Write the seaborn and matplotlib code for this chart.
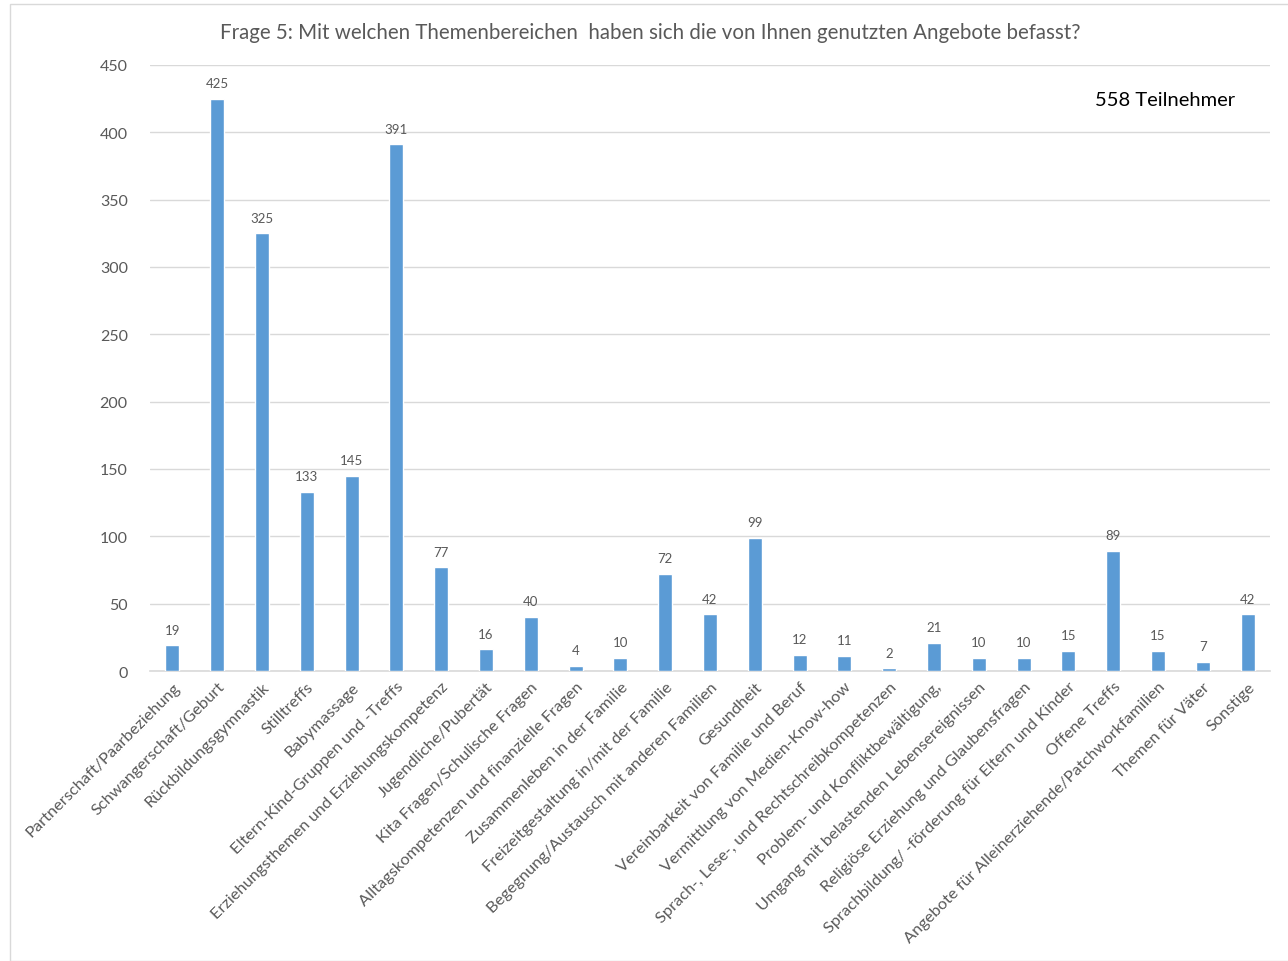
import matplotlib

matplotlib.use("Agg")
import matplotlib.pyplot as plt
import pandas as pd
import seaborn as sns

themen = [
    "Partnerschaft/Paarbeziehung",
    "Schwangerschaft/Geburt",
    "Rückbildungsgymnastik",
    "Stilltreffs",
    "Babymassage",
    "Eltern-Kind-Gruppen und -Treffs",
    "Erziehungsthemen und Erziehungskompetenz",
    "Jugendliche/Pubertät",
    "Kita Fragen/Schulische Fragen",
    "Alltagskompetenzen und finanzielle Fragen",
    "Zusammenleben in der Familie",
    "Freizeitgestaltung in/mit der Familie",
    "Begegnung/Austausch mit anderen Familien",
    "Gesundheit",
    "Vereinbarkeit von Familie und Beruf",
    "Vermittlung von Medien-Know-how",
    "Sprach-, Lese-, und Rechtschreibkompetenzen",
    "Problem- und Konfliktbewältigung,",
    "Umgang mit belastenden Lebensereignissen",
    "Religiöse Erziehung und Glaubensfragen",
    "Sprachbildung/ -förderung für Eltern und Kinder",
    "Offene Treffs",
    "Angebote für Alleinerziehende/Patchworkfamilien",
    "Themen für Väter",
    "Sonstige",
]
anzahl = [19, 425, 325, 133, 145, 391, 77, 16, 40, 4, 10, 72, 42, 99,
          12, 11, 2, 21, 10, 10, 15, 89, 15, 7, 42]
y_ticks = [0, 50, 100, 150, 200, 250, 300, 350, 400, 450]

df = pd.DataFrame({"thema": themen, "anzahl": anzahl})

sns.set_theme(style="white")
plt.rcParams["font.family"] = ["Lato", "DejaVu Sans"]

text_color = "#595959"
grid_color = "#D9D9D9"
bar_color = "#5B9BD5"

fig = plt.figure(figsize=(12.88, 9.62), dpi=100)
ax = fig.add_axes([150 / 1288, 1 - 672 / 962, 1120 / 1288, 606 / 962])

sns.barplot(data=df, x="thema", y="anzahl", color=bar_color, width=0.31,
            saturation=1, ax=ax, zorder=3)

ax.set_xlim(-0.5, len(themen) - 0.5)
ax.set_ylim(0, 450)
ax.set_yticks(y_ticks)
ax.yaxis.grid(True, color=grid_color, linewidth=1, zorder=0)
ax.set_axisbelow(True)
for side in ["top", "right", "left"]:
    ax.spines[side].set_visible(False)
ax.spines["bottom"].set_color(grid_color)
ax.spines["bottom"].set_linewidth(1.2)
ax.set_xlabel("")
ax.set_ylabel("")
ax.tick_params(axis="y", colors=text_color, labelsize=11.5, length=0, pad=16)
ax.tick_params(axis="x", colors=text_color, labelsize=11.8, length=0, pad=6)
ax.set_xticks(range(len(themen)))
ax.set_xticklabels(themen, rotation=45, ha="right", rotation_mode="anchor")

for container in ax.containers:
    ax.bar_label(container, padding=7, fontsize=9.5, color=text_color)

fig.text(650 / 1288, 1 - 33 / 962,
         "Frage 5: Mit welchen Themenbereichen  haben sich die von Ihnen genutzten Angebote befasst?",
         ha="center", va="center", fontsize=14.8, color=text_color)
fig.text(1165 / 1288, 1 - 100 / 962, "558 Teilnehmer", ha="center", va="center",
         fontsize=14.5, color="black")

# chart frame like the original export
frame = plt.Rectangle((10 / 1288, 0), 1.2, 1 - 5 / 962, transform=fig.transFigure,
                      fill=False, edgecolor=grid_color, linewidth=1)
fig.add_artist(frame)

fig.savefig("out.png", dpi=100)
